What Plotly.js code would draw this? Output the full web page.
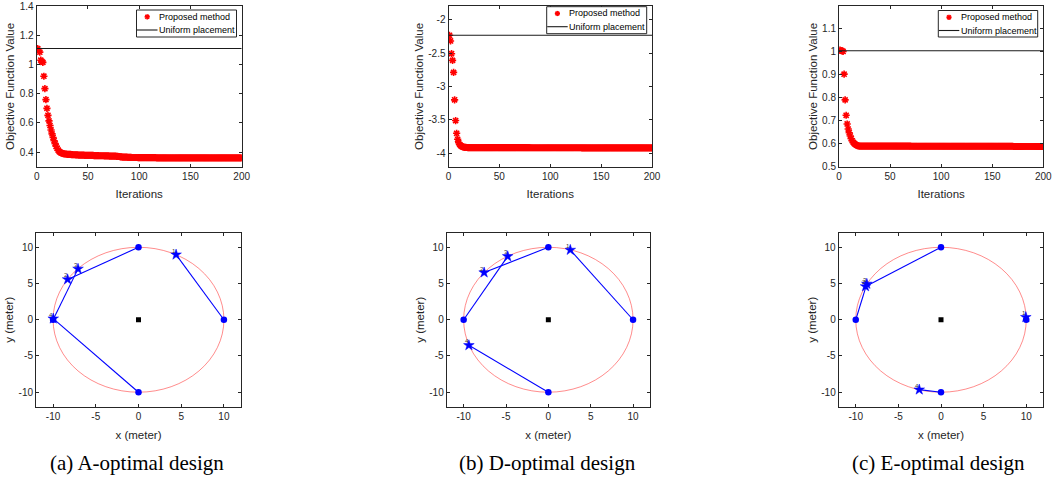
<!DOCTYPE html>
<html><head><meta charset="utf-8">
<script src="https://cdn.plot.ly/plotly-3.0.1.min.js"></script>
<style>html,body{margin:0;padding:0;background:#fff}#chart{width:1056px;height:483px}</style>
</head><body><div id="chart"></div>
<script>
// ---- Convergence data (objective value per iteration) ----
const objA = [
1.110,1.095,1.085,1.030,1.022,1.015,0.920,0.835,0.760,0.700,
0.652,0.614,0.582,0.552,0.525,0.500,0.478,0.458,0.440,0.425,
0.413,0.404,0.398,0.394,0.391,0.389,0.388,0.387,0.386,0.385,
0.385,0.384,0.384,0.383,0.383,0.382,0.382,0.381,0.381,0.381,
0.380,0.380,0.380,0.379,0.379,0.379,0.378,0.378,0.378,0.378,
0.377,0.377,0.377,0.377,0.377,0.376,0.376,0.376,0.376,0.376,
0.375,0.375,0.375,0.375,0.375,0.374,0.374,0.374,0.374,0.374,
0.373,0.373,0.373,0.373,0.372,0.372,0.372,0.371,0.371,0.370,
0.369,0.368,0.367,0.366,0.366,0.365,0.365,0.365,0.364,0.364,
0.364,0.364,0.363,0.363,0.363,0.363,0.363,0.363,0.362,0.362,
0.362,0.362,0.362,0.362,0.362,0.362,0.362,0.362,0.362,0.362,
0.362,0.362,0.362,0.362,0.362,0.362,0.361,0.361,0.361,0.361,
0.361,0.361,0.361,0.361,0.361,0.361,0.361,0.361,0.361,0.361,
0.361,0.361,0.361,0.361,0.361,0.361,0.361,0.361,0.361,0.361,
0.361,0.361,0.361,0.361,0.361,0.361,0.361,0.361,0.361,0.361,
0.361,0.361,0.361,0.361,0.361,0.361,0.361,0.361,0.361,0.361,
0.360,0.360,0.360,0.360,0.360,0.360,0.360,0.360,0.360,0.360,
0.360,0.360,0.360,0.360,0.360,0.360,0.360,0.360,0.360,0.360,
0.360,0.360,0.360,0.360,0.360,0.360,0.360,0.360,0.360,0.360,
0.360,0.360,0.360,0.360,0.360,0.360,0.360,0.360,0.360,0.360];

const objD = [
-2.235,-2.320,-2.510,-2.610,-2.790,-3.200,-3.510,-3.700,-3.790,-3.840,
-3.868,-3.885,-3.896,-3.903,-3.907,-3.910,-3.912,-3.913,-3.914,-3.915,
-3.915,-3.915,-3.915,-3.915,-3.915,-3.915,-3.915,-3.915,-3.915,-3.915,
-3.915,-3.915,-3.915,-3.915,-3.915,-3.915,-3.915,-3.915,-3.915,-3.915,
-3.916,-3.916,-3.916,-3.916,-3.916,-3.916,-3.916,-3.916,-3.916,-3.916,
-3.916,-3.916,-3.916,-3.916,-3.916,-3.916,-3.916,-3.916,-3.916,-3.916,
-3.916,-3.916,-3.916,-3.916,-3.916,-3.916,-3.916,-3.916,-3.916,-3.916,
-3.916,-3.916,-3.916,-3.916,-3.916,-3.916,-3.916,-3.916,-3.916,-3.916,
-3.917,-3.917,-3.917,-3.917,-3.917,-3.917,-3.917,-3.917,-3.917,-3.917,
-3.917,-3.917,-3.917,-3.917,-3.917,-3.917,-3.917,-3.917,-3.917,-3.917,
-3.917,-3.917,-3.917,-3.917,-3.917,-3.917,-3.917,-3.917,-3.917,-3.917,
-3.917,-3.917,-3.917,-3.917,-3.917,-3.917,-3.917,-3.917,-3.917,-3.917,
-3.917,-3.917,-3.917,-3.917,-3.917,-3.917,-3.917,-3.917,-3.917,-3.917,
-3.918,-3.918,-3.918,-3.918,-3.918,-3.918,-3.918,-3.918,-3.918,-3.918,
-3.918,-3.918,-3.918,-3.918,-3.918,-3.918,-3.918,-3.918,-3.918,-3.918,
-3.918,-3.918,-3.918,-3.918,-3.918,-3.918,-3.918,-3.918,-3.918,-3.918,
-3.918,-3.918,-3.918,-3.918,-3.918,-3.918,-3.918,-3.918,-3.918,-3.918,
-3.918,-3.918,-3.918,-3.918,-3.918,-3.918,-3.918,-3.918,-3.918,-3.918,
-3.918,-3.918,-3.918,-3.918,-3.918,-3.918,-3.918,-3.918,-3.918,-3.918,
-3.918,-3.918,-3.918,-3.918,-3.918,-3.918,-3.918,-3.918,-3.918,-3.918];

const objE = [
1.008,1.006,1.004,1.002,0.903,0.791,0.724,0.686,0.664,0.648,
0.634,0.622,0.613,0.606,0.601,0.597,0.594,0.592,0.591,0.590,
0.590,0.590,0.590,0.590,0.590,0.590,0.590,0.590,0.590,0.590,
0.590,0.590,0.590,0.590,0.590,0.590,0.590,0.590,0.590,0.590,
0.590,0.590,0.590,0.590,0.590,0.590,0.590,0.590,0.590,0.590,
0.590,0.590,0.590,0.590,0.590,0.590,0.590,0.590,0.590,0.590,
0.590,0.590,0.590,0.590,0.590,0.590,0.590,0.590,0.590,0.590,
0.589,0.589,0.589,0.589,0.589,0.589,0.589,0.589,0.589,0.589,
0.589,0.589,0.589,0.589,0.589,0.589,0.589,0.589,0.589,0.589,
0.589,0.589,0.589,0.589,0.589,0.589,0.589,0.589,0.589,0.589,
0.589,0.589,0.589,0.589,0.589,0.589,0.589,0.589,0.589,0.589,
0.589,0.589,0.589,0.589,0.589,0.589,0.589,0.589,0.589,0.589,
0.589,0.589,0.589,0.589,0.589,0.589,0.589,0.589,0.589,0.589,
0.589,0.589,0.589,0.589,0.589,0.589,0.589,0.589,0.589,0.589,
0.589,0.589,0.589,0.589,0.589,0.589,0.589,0.589,0.589,0.589,
0.589,0.589,0.589,0.589,0.589,0.589,0.589,0.589,0.589,0.589,
0.589,0.589,0.589,0.589,0.589,0.589,0.589,0.589,0.589,0.589,
0.588,0.588,0.588,0.588,0.588,0.588,0.588,0.588,0.588,0.588,
0.588,0.588,0.588,0.588,0.588,0.588,0.588,0.588,0.588,0.588,
0.588,0.588,0.588,0.588,0.588,0.588,0.588,0.588,0.588,0.588];

const uniformA = 1.11;
const uniformD = -2.235;
const uniformE = 1.005;
const iterRange = [0, 200];

// ---- Sensor placement data ----
const initX = [10, 0, -10, 0];
const initY = [0, 10, 0, -10];
const finalAX = [4.40, -8.30, -7.08, -9.98];
const finalAY = [8.98, 5.56, 7.02, 0.15];
const finalDX = [2.59, -7.58, -4.80, -9.38];
const finalDY = [9.63, 6.51, 8.75, -3.53];
const finalEX = [9.95, -8.85, -8.70, -2.55];
const finalEY = [0.35, 4.60, 4.95, -9.65];
const sensorLabels = ['1', '2', '3', '4'];
const targetX = [0];
const targetY = [0];
const circleRadius = 10;

// ---- Text ----
const captions = ['(a) A-optimal design', '(b) D-optimal design', '(c) E-optimal design'];
const seriesNames = ['Proposed method', 'Uniform placement'];
const iterTickVals = [0, 50, 100, 150, 200];
const iterTickText = ['0', '50', '100', '150', '200'];
const posTickVals = [-10, -5, 0, 5, 10];
const posTickText = ['-10', '-5', '0', '5', '10'];
const yTickValsA = [0.4, 0.6, 0.8, 1, 1.2, 1.4];
const yTickTextA = ['0.4', '0.6', '0.8', '1', '1.2', '1.4'];
const yTickValsD = [-4, -3.5, -3, -2.5, -2];
const yTickTextD = ['-4', '-3.5', '-3', '-2.5', '-2'];
const yTickValsE = [0.5, 0.6, 0.7, 0.8, 0.9, 1, 1.1];
const yTickTextE = ['0.5', '0.6', '0.7', '0.8', '0.9', '1', '1.1'];

// ---- Build figure ----
const W = 1056, H = 483;
const axisColor = '#262626';
const sans = 'Liberation Sans, Arial, sans-serif';
const px = v => v / W;
const py = v => 1 - v / H;

function axis(domain, range, tickvals, ticktext, anchor, title, standoff) {
  return {
    domain: domain, range: range, anchor: anchor,
    tickmode: 'array', tickvals: tickvals, ticktext: ticktext,
    ticks: 'inside', ticklen: 3, tickwidth: 1, tickcolor: axisColor,
    showline: true, linecolor: axisColor, linewidth: 1, mirror: 'ticks',
    showgrid: false, zeroline: false, fixedrange: true, ticklabeloverflow: 'allow',
    tickfont: {family: sans, size: 10, color: axisColor},
    title: {text: title, font: {family: sans, size: 11.5, color: axisColor}, standoff: standoff}
  };
}

const colX = [[36.7, 241.7], [448.5, 652], [839, 1043.3]];
const colXb = [[36, 241], [446.7, 650], [838.7, 1043.3]];
const topY = [py(166.7), py(6.2)];
const botY = [py(406.7), py(232.8)];

const iters = objA.map((_, i) => i + 1);
const convSets = [
  {y: objA, u: uniformA, yr: [0.3, 1.4001], tv: yTickValsA, tt: yTickTextA},
  {y: objD, u: uniformD, yr: [-4.2, -1.8], tv: yTickValsD, tt: yTickTextD},
  {y: objE, u: uniformE, yr: [0.5, 1.199], tv: yTickValsE, tt: yTickTextE}
];
const placeSets = [
  {fx: finalAX, fy: finalAY},
  {fx: finalDX, fy: finalDY},
  {fx: finalEX, fy: finalEY}
];

const traces = [];
const layout = {
  width: W, height: H, margin: {l: 0, r: 0, t: 0, b: 0},
  paper_bgcolor: '#fff', plot_bgcolor: '#fff', showlegend: false,
  shapes: [], annotations: []
};

// compact MATLAB-style legend boxes: [left, top, right, bottom] in px
const legendBoxes = [[136.5, 10, 236.5, 37], [546.7, 6.7, 646.7, 33.7], [938.3, 10.5, 1037.7, 37]];
function addLegend(b) {
  const L = b[0], T = b[1], R = b[2], B = b[3];
  const r1 = T + 6.8, r2 = T + 20;
  layout.shapes.push({type: 'rect', xref: 'paper', yref: 'paper', x0: px(L), x1: px(R), y0: py(B), y1: py(T),
    fillcolor: '#fff', line: {color: axisColor, width: 1}, layer: 'above'});
  const cx = L + 10.7, h = 2.6, d = 1.9;
  [[-h, 0, h, 0], [0, -h, 0, h], [-d, -d, d, d], [-d, d, d, -d]].forEach(s => {
    layout.shapes.push({type: 'line', xref: 'paper', yref: 'paper', x0: px(cx + s[0]), y0: py(r1 + s[1]),
      x1: px(cx + s[2]), y1: py(r1 + s[3]), line: {color: 'red', width: 1.6}, layer: 'above'});
  });
  layout.shapes.push({type: 'line', xref: 'paper', yref: 'paper', x0: px(L + 0.5), x1: px(L + 21), y0: py(r2), y1: py(r2),
    line: {color: '#1a1a1a', width: 1.1}, layer: 'above'});
  [[r1, seriesNames[0]], [r2, seriesNames[1]]].forEach(r => {
    layout.annotations.push({xref: 'paper', yref: 'paper', x: px(L + 21.5), y: py(r[0]), xanchor: 'left', yanchor: 'middle',
      text: r[1], showarrow: false, borderpad: 0, font: {family: sans, size: 9, color: '#000'}});
  });
}

convSets.forEach((s, i) => {
  const n = i + 1;
  const xa = 'x' + n, ya = 'y' + n;
  traces.push({
    type: 'scatter', mode: 'markers', x: iters, y: s.y, xaxis: xa, yaxis: ya,
    name: seriesNames[0], cliponaxis: true,
    marker: {symbol: 'asterisk-open', size: 6, color: 'red', line: {color: 'red', width: 1.6}}
  });
  traces.push({
    type: 'scatter', mode: 'lines', x: iterRange, y: [s.u, s.u], xaxis: xa, yaxis: ya,
    name: seriesNames[1], line: {color: '#1a1a1a', width: 1.1}
  });
  layout['xaxis' + n] = axis([px(colX[i][0]), px(colX[i][1])], iterRange, iterTickVals, iterTickText, ya, 'Iterations', 9);
  layout['yaxis' + n] = axis(topY, s.yr, s.tv, s.tt, xa, 'Objective Function Value', 2);
  addLegend(legendBoxes[i]);
});

placeSets.forEach((s, i) => {
  const n = i + 4;
  const xa = 'x' + n, ya = 'y' + n;
  const lx = [], ly = [];
  initX.forEach((_, k) => { lx.push(initX[k], s.fx[k], null); ly.push(initY[k], s.fy[k], null); });
  layout.shapes.push({
    type: 'circle', xref: xa, yref: ya,
    x0: -circleRadius, y0: -circleRadius, x1: circleRadius, y1: circleRadius,
    line: {color: 'rgba(255,60,60,0.85)', width: 0.7}, layer: 'below'
  });
  traces.push({type: 'scatter', mode: 'lines', x: lx, y: ly, xaxis: xa, yaxis: ya, showlegend: false,
    line: {color: 'blue', width: 1.1}, hoverinfo: 'skip'});
  traces.push({type: 'scatter', mode: 'markers', x: initX, y: initY, xaxis: xa, yaxis: ya, showlegend: false,
    marker: {symbol: 'circle', size: 6.5, color: 'blue'}});
  traces.push({type: 'scatter', mode: 'markers', x: s.fx, y: s.fy, xaxis: xa, yaxis: ya, showlegend: false,
    marker: {symbol: 'star', size: 8, color: 'blue', line: {color: 'blue', width: 0.5}}});
  traces.push({type: 'scatter', mode: 'markers', x: targetX, y: targetY, xaxis: xa, yaxis: ya, showlegend: false,
    marker: {symbol: 'square', size: 5, color: 'black'}});
  s.fx.forEach((v, k) => {
    layout.annotations.push({xref: xa, yref: ya, x: v, y: s.fy[k], text: sensorLabels[k], showarrow: false,
      xshift: -2, yshift: 4, font: {family: sans, size: 6, color: '#333'}});
  });
  layout['xaxis' + n] = axis([px(colXb[i][0]), px(colXb[i][1])], [-12, 12], posTickVals, posTickText, ya, 'x (meter)', 10);
  layout['yaxis' + n] = axis(botY, [-12, 12], posTickVals, posTickText, xa, 'y (meter)', 2);
});

const capX = [137, 547, 938];
captions.forEach((c, i) => {
  layout.annotations.push({xref: 'paper', yref: 'paper', x: px(capX[i]), y: py(463), xanchor: 'center', yanchor: 'middle',
    text: c, showarrow: false, font: {family: 'Liberation Serif, Times New Roman, serif', size: 21, color: '#000'}});
});

Plotly.newPlot('chart', traces, layout, {staticPlot: true, displayModeBar: false});
</script>
</body></html>
